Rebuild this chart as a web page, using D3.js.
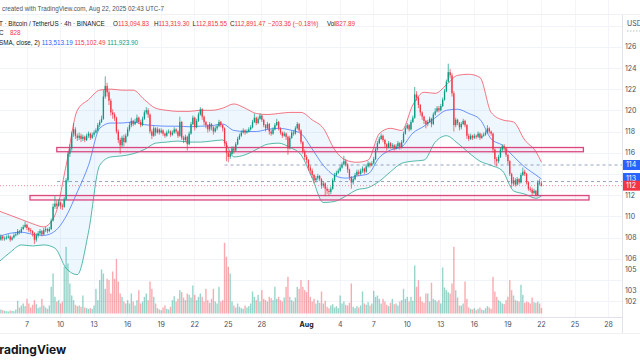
<!DOCTYPE html>
<html><head><meta charset="utf-8">
<script src="https://cdn.jsdelivr.net/npm/d3@7"></script>
<style>
html,body{margin:0;padding:0;background:#fff;}
svg{display:block;font-family:"Inter","Noto Sans",sans-serif;}
</style></head><body>
<svg id="c" width="640" height="360"></svg>
<script>
// ---- DATA (prices in thousands of USDT, 4h candles, chart time UTC-7) ----
const firstCandle = "2025-07-04T13:00";
const firstOpenK = 108.0;
const closeK = [107.8,108.1,107.9,
107.9,108.0,108.1,107.8,108.0,108.2,
108.3,108.6,108.5,108.8,109.0,109.2,
108.9,108.7,108.6,108.4,107.8,108.2,
108.4,108.6,108.3,108.7,108.8,108.6,
108.8,109.6,110.9,111.2,111.0,111.3,
111.0,110.9,111.6,113.4,115.9,116.4,
117.8,118.2,117.6,117.4,117.6,117.3,
117.5,117.2,117.6,117.8,117.4,117.7,
117.9,118.1,118.6,118.9,119.2,121.3,
122.3,121.7,120.9,119.8,119.6,119.3,
118.0,117.2,116.7,117.4,117.0,117.6,
118.2,118.6,119.0,118.7,118.9,119.3,
118.9,118.6,119.2,119.8,120.0,119.6,
118.0,117.6,118.3,117.9,118.2,117.9,
118.1,117.8,117.6,117.9,118.0,117.7,
117.9,118.2,118.0,117.6,118.9,117.4,
117.2,117.5,116.8,117.8,118.7,119.3,
118.4,119.0,119.6,120.1,119.4,118.9,
118.6,118.2,118.7,118.4,118.0,118.3,
118.5,118.9,118.6,118.3,116.9,116.0,
115.6,115.9,116.4,116.2,116.8,117.3,
117.6,117.9,118.1,117.9,118.0,118.2,
118.4,118.9,119.3,118.8,119.2,119.5,
119.1,118.6,118.3,118.7,118.0,117.8,
118.2,118.6,118.9,118.3,117.9,117.6,
117.8,117.5,116.4,117.4,117.9,117.8,
118.3,118.7,118.1,117.0,116.1,115.6,
115.3,114.6,114.3,113.9,113.4,113.6,
113.8,113.5,112.9,113.1,112.6,112.4,
112.3,112.6,113.4,113.9,114.1,114.3,
114.6,114.9,115.2,114.9,114.4,113.7,
113.2,113.5,113.9,114.2,114.0,114.3,
114.5,114.2,114.7,115.0,114.8,115.0,
115.4,116.3,116.9,117.3,117.6,117.2,
116.8,116.5,116.9,116.6,116.7,116.4,
116.6,116.9,116.5,117.0,117.8,118.3,
118.6,118.2,118.9,119.3,121.5,121.2,
120.5,119.8,119.4,119.0,118.7,118.9,
119.2,118.7,119.6,119.9,120.2,120.0,
120.4,121.0,121.8,122.7,123.6,123.3,
121.6,118.6,119.1,118.8,118.4,118.7,
119.0,118.6,117.6,117.3,117.6,117.4,
117.6,117.5,117.8,117.4,117.6,117.7,
117.9,118.3,118.0,117.8,116.3,115.4,
115.2,115.6,116.3,116.6,116.4,115.8,
115.2,114.0,113.1,113.4,113.0,113.5,
113.2,113.9,114.2,114.0,113.2,112.6,
112.5,112.2,112.4,112.0,113.2,113.09,
112.89];
const highK = [108.2,108.3,108.2,
108.1,108.2,108.3,108.2,108.1,108.4,
108.5,108.8,108.7,109.0,109.2,109.5,
109.3,109.0,108.9,108.7,108.5,108.4,
108.6,108.8,108.7,108.9,109.0,108.9,
109.0,109.8,111.2,111.9,111.5,111.6,
111.4,111.2,111.8,113.6,116.1,116.8,
118.0,118.8,118.4,117.8,117.9,117.8,
117.7,117.6,117.8,118.0,117.9,117.9,
118.1,118.3,118.8,119.1,119.5,121.9,
123.2,122.6,121.9,121.1,120.1,119.8,
119.4,118.2,117.4,117.6,117.7,117.8,
118.4,118.9,119.3,119.1,119.2,119.6,
119.4,119.1,119.4,120.0,120.3,120.2,
119.7,118.2,118.5,118.4,118.4,118.3,
118.3,118.2,117.9,118.1,118.2,118.1,
118.1,118.4,118.3,118.1,119.4,119.0,
117.6,117.7,117.6,118.0,118.9,119.5,
119.4,119.2,119.8,120.3,120.2,119.5,
119.0,118.7,118.9,118.8,118.5,118.5,
118.7,119.1,119.0,118.7,118.4,117.1,
116.2,116.1,116.6,116.6,117.0,117.5,
117.8,118.1,118.3,118.2,118.2,118.4,
118.6,119.1,119.7,119.4,119.4,119.7,
119.6,119.2,118.7,118.9,118.8,118.2,
118.4,118.8,119.2,119.0,118.4,118.0,
118.0,117.9,117.6,117.6,118.1,118.1,
118.5,118.9,118.8,118.2,117.1,116.3,
115.8,115.4,114.8,114.5,114.0,113.8,
114.0,113.9,113.6,113.3,113.2,112.8,
112.6,112.8,113.6,114.1,114.3,114.5,
114.8,115.1,115.7,115.4,115.0,114.5,
113.8,113.7,114.1,114.4,114.4,114.5,
114.7,114.6,114.9,115.2,115.1,115.2,
115.6,116.5,117.1,117.5,117.8,117.7,
117.3,116.9,117.1,117.0,116.9,116.8,
116.8,117.1,117.0,117.2,118.0,118.5,
118.8,118.7,119.1,119.5,122.2,121.8,
121.3,120.6,119.9,119.5,119.1,119.1,
119.4,119.3,119.8,120.2,120.4,120.4,
120.6,121.2,122.0,122.9,124.4,123.9,
123.5,121.8,119.3,119.2,118.9,118.9,
119.2,119.1,118.7,117.8,117.8,117.7,
117.8,117.7,118.0,117.9,117.8,117.9,
118.1,118.6,118.4,118.1,117.9,116.4,
115.6,115.8,116.5,116.8,116.8,116.5,
115.9,115.3,114.1,113.7,113.6,113.7,
113.6,114.1,114.6,114.4,114.1,113.3,
112.8,112.7,112.6,112.5,113.4,113.5,
113.32];
const lowK = [107.6,107.7,107.7,
107.7,107.8,107.9,107.6,107.7,107.9,
108.1,108.2,108.3,108.4,108.7,108.9,
108.7,108.5,108.4,108.1,107.4,107.6,
108.0,108.2,108.1,108.2,108.5,108.4,
108.5,108.7,109.5,110.7,110.7,110.9,
110.7,110.6,110.8,111.5,113.2,115.6,
116.2,117.5,117.3,117.1,117.2,117.0,
117.1,117.0,117.1,117.4,117.2,117.3,
117.5,117.8,118.0,118.4,118.8,119.1,
121.1,121.3,120.5,119.5,119.2,119.0,
117.8,116.9,115.9,116.5,116.6,116.9,
117.5,118.0,118.4,118.5,118.6,118.8,
118.7,118.4,118.5,119.1,119.6,119.3,
117.8,117.3,117.5,117.6,117.8,117.7,
117.8,117.6,117.4,117.5,117.8,117.5,
117.6,117.8,117.8,117.4,117.5,117.2,
116.9,117.0,116.2,116.7,117.7,118.6,
118.1,118.3,118.9,119.5,119.1,118.6,
118.3,117.9,118.0,118.1,117.7,117.9,
118.1,118.4,118.4,118.0,116.6,115.2,
115.1,115.4,115.8,115.9,116.1,116.7,
117.2,117.5,117.8,117.7,117.8,117.9,
118.1,118.3,118.8,118.6,118.7,119.1,
118.9,118.4,118.0,118.2,117.7,117.6,
117.7,118.1,118.5,118.1,117.7,117.4,
117.5,117.2,115.8,116.3,117.3,117.6,
117.7,118.2,117.9,116.8,115.9,115.3,
115.0,114.3,114.0,113.6,113.1,113.2,
113.4,113.3,112.6,112.7,111.9,112.1,
112.0,112.1,112.5,113.3,113.8,114.0,
114.2,114.5,114.8,114.7,114.1,113.4,
112.6,113.0,113.4,113.8,113.8,113.9,
114.1,114.0,114.1,114.6,114.6,114.7,
114.9,115.3,116.2,116.8,117.2,117.0,
116.5,116.2,116.4,116.4,116.4,116.2,
116.3,116.5,116.3,116.4,116.9,117.7,
118.2,118.0,118.1,118.8,119.2,120.9,
120.2,119.5,119.1,118.7,118.3,118.5,
118.8,118.4,118.6,119.5,119.8,119.8,
119.9,120.3,120.9,121.7,122.6,123.0,
121.3,118.0,118.4,118.6,118.1,118.2,
118.6,118.4,117.3,117.1,117.2,117.2,
117.3,117.3,117.4,117.2,117.3,117.5,
117.6,117.8,117.8,117.6,116.0,114.9,
114.7,115.0,115.5,116.1,116.2,115.6,
114.9,113.8,112.7,112.9,112.8,112.9,
113.0,113.1,113.8,113.8,113.0,112.4,
112.3,112.0,112.1,111.9,111.9,112.9,
112.82];
const volumeBTC = [450,600,500,400,350,300,450,400,350,600,
1900,900,1200,1500,1100,2200,1500,900,1300,2000,1400,800,1000,2200,1200,900,700,
1200,4000,6000,
2500,1800,2000,1500,1800,
7000,10000,7500,4500,
2700,2000,1300,1100,1200,1000,
2700,900,800,700,800,700,
1200,3700,2000,5000,6600,6000,
3700,5200,5000,3000,6300,5200,
8200,4800,3000,2500,1800,1500,
2000,1500,3000,1800,1200,2000,3500,1500,1800,2500,3000,2000,
4800,3700,2500,
1500,800,600,500,900,1200,700,600,1000,
2000,2600,1800,2200,3500,3200,2400,2000,3000,2800,2400,4200,2800,2000,2500,
3000,2500,1800,3700,2000,1600,2200,3700,1800,1500,4000,1800,2000,
10600,8500,7000,6000,
1800,1200,900,1500,1000,800,700,1200,900,1100,1500,
3300,2500,2000,2800,1800,3500,2200,
2000,1800,2500,2300,2000,4000,2200,2500,2000,1800,2400,
4000,5500,
2500,2000,1800,2400,4000,3700,
5000,4000,3500,3200,5000,
2500,1800,2200,1500,2000,1600,
3300,
1500,1900,1000,800,1200,1400,900,1100,800,2700,
1500,1800,1300,1200,1600,4500,
1000,800,1100,900,1200,3300,
1500,1300,1700,1200,1500,3400,
2500,2700,2200,
1500,2200,1800,1300,1100,1600,2200,1400,
1500,1200,1800,2000,3700,
2200,2500,1800,2500,1900,
7200,4000,5000,2500,1800,
1600,3000,3000,1800,4600,
2200,2000,1800,2000,1500,
6900,3900,3500,3200,3000,
4500,10000,3500,2400,
1200,1200,1500,4800,2200,
900,700,600,800,500,700,900,600,500,800,1100,900,700,
5500,3300,2500,2000,
1800,1500,1400,2000,
2500,5000,3500,2700,
2000,1900,
1800,4300,2800,
1600,1800,1700,1500,2400,
1700,1600,1800,1500,
827.89];
// Bollinger Bands (20, SMA, close, 2) read at every 6th candle
const bbIndex = [0,6,12,18,24,30,36,42,48,54,60,66,72,78,84,90,96,102,108,114,120,126,132,138,144,150,156,162,168,174,180,186,192,198,204,210,216,222,228,234,240,246,252,258,264,270,276,282,288,291];
const bbUpperK = [110.5,110.1,109.7,109.3,109.0,110.1,114.8,120.0,121.0,121.9,122.0,121.9,121.9,121.0,120.2,120.0,119.9,119.9,120.0,120.0,120.2,120.6,120.2,119.7,119.6,119.7,119.8,119.8,119.1,118.3,116.3,115.3,115.1,115.3,117.8,118.3,118.1,120.5,121.7,121.6,122.4,123.3,123.4,123.1,119.8,119.1,118.9,117.2,116.1,115.10];
const bbBasisK = [108.1,108.4,108.5,108.3,108.2,108.6,110.0,112.3,114.8,118.3,118.8,118.8,118.9,118.65,118.55,118.5,118.5,118.45,118.5,118.55,118.7,118.1,118.0,118.0,118.2,118.3,118.15,117.8,116.35,114.8,113.85,113.6,113.8,114.0,115.55,116.25,116.55,117.85,118.5,119.3,120.0,120.1,119.7,119.15,117.3,116.7,115.65,114.65,113.9,113.51];
const bbLowerK = [105.7,106.6,107.3,107.2,107.3,107.0,105.1,104.5,108.5,114.8,115.6,115.7,115.9,116.3,116.9,117.0,117.1,117.0,117.0,117.1,117.2,115.6,115.8,116.3,116.8,116.9,116.5,115.8,113.6,111.3,111.4,111.9,112.5,112.7,113.3,114.2,115.0,115.2,115.3,117.0,117.6,116.9,116.0,115.2,114.8,114.3,112.4,112.1,111.7,111.92];
const priceTickK = [126,124,122,120,118,116,112,110,108,106,105,103,102];
const gridK = [128,126,124,122,120,118,116,114,112,110,108,106,104,102,100];
const dateTicks = ["2025-07-07","2025-07-10","2025-07-13","2025-07-16","2025-07-19","2025-07-22","2025-07-25","2025-07-28","2025-08-01","2025-08-04","2025-08-07","2025-08-10","2025-08-13","2025-08-16","2025-08-19","2025-08-22","2025-08-25","2025-08-28"];
// drawings: rectangles [start, end, lowK, highK] and horizontal rays [start, priceK, label]
const zones = [["2025-07-09T17:00","2025-08-25T19:00",116.09,116.49],["2025-07-07T07:30","2025-08-26T07:00",111.54,111.96]];
const rays = [["2025-07-24T17:00",114.84,"114"],["2025-07-09T17:30",113.28,"113"]];
const lastPriceK = 112.89;

// ---- SCALES ----
const P = s => { const [d,t] = s.split("T"); const [Y,M,D]=d.split("-").map(Number); const [h,m]=(t||"00:00").split(":").map(Number); return new Date(Date.UTC(Y,M-1,D,h,m)); };
const t0 = P(firstCandle);
const tOf = i => new Date(t0.getTime() + i*4*3600e3);
const x = d3.scaleTime().domain([P("2025-07-07"),P("2025-08-22")]).range([26.5,541]);
const y = d3.scaleLinear().domain([100,128]).range([322.3,25.5]);
const yv = d3.scaleLinear().domain([0,11100]).range([313.5,239.5]);
const PANE_R = 622;
const UP="#089981", DN="#f23645";

const svg = d3.select("#c");
const candles = closeK.map((c,i)=>({i, t:tOf(i), o: i===0?firstOpenK:closeK[i-1], h:highK[i], l:lowK[i], c, v:volumeBTC[i]}));

// grid
const g0 = svg.append("g");
g0.selectAll("line.h").data(gridK).join("line")
  .attr("x1",0).attr("x2",PANE_R).attr("y1",d=>Math.round(y(d))+0.5).attr("y2",d=>Math.round(y(d))+0.5)
  .attr("stroke","#f0f3fa").attr("stroke-width",1);
g0.selectAll("line.v").data(dateTicks).join("line")
  .attr("x1",d=>Math.round(x(P(d)))+0.5).attr("x2",d=>Math.round(x(P(d)))+0.5).attr("y1",0).attr("y2",317)
  .attr("stroke","#f3f5fa").attr("stroke-width",1);

// volume
svg.append("g").selectAll("rect").data(candles).join("rect")
  .attr("x",d=>x(d.t)-0.7).attr("width",1.4)
  .attr("y",d=>yv(d.v)).attr("height",d=>yv(0)-yv(d.v))
  .attr("fill",d=>d.c>=d.o?"rgba(8,153,129,0.42)":"rgba(242,54,69,0.42)");

// bollinger
const bb = bbIndex.map((k,j)=>({t:tOf(k), u:bbUpperK[j], m:bbBasisK[j], l:bbLowerK[j]}));
const cv = d3.curveMonotoneX;
svg.append("path").datum(bb).attr("d",d3.area().x(d=>x(d.t)).y0(d=>y(d.l)).y1(d=>y(d.u)).curve(cv))
  .attr("fill","rgba(33,150,243,0.08)");
[["u","#f23645"],["m","#2962ff"],["l","#089981"]].forEach(([k,col])=>{
  svg.append("path").datum(bb).attr("d",d3.line().x(d=>x(d.t)).y(d=>y(d[k])).curve(cv))
    .attr("fill","none").attr("stroke",col).attr("stroke-width",0.8).attr("opacity",0.85);
});

// zones
svg.append("g").selectAll("rect").data(zones).join("rect")
  .attr("x",d=>x(P(d[0]))).attr("width",d=>x(P(d[1]))-x(P(d[0])))
  .attr("y",d=>y(d[3])).attr("height",d=>y(d[2])-y(d[3]))
  .attr("fill","rgba(233,30,99,0.06)").attr("stroke","#d9487f").attr("stroke-width",1.3);

// rays
svg.append("g").selectAll("line").data(rays).join("line")
  .attr("x1",d=>x(P(d[0]))).attr("x2",PANE_R).attr("y1",d=>y(d[1])).attr("y2",d=>y(d[1]))
  .attr("stroke","#7d8cb0").attr("stroke-width",0.8).attr("stroke-dasharray","3,3");
// last price line
svg.append("line").attr("x1",0).attr("x2",PANE_R).attr("y1",y(lastPriceK)).attr("y2",y(lastPriceK))
  .attr("stroke",DN).attr("stroke-width",0.7).attr("stroke-dasharray","1,2").attr("opacity",0.8);

// candles
const cg = svg.append("g");
cg.selectAll("line").data(candles).join("line")
  .attr("x1",d=>x(d.t)).attr("x2",d=>x(d.t)).attr("y1",d=>y(d.h)).attr("y2",d=>y(d.l))
  .attr("stroke",d=>d.c>=d.o?UP:DN).attr("stroke-width",0.7);
cg.selectAll("rect").data(candles).join("rect")
  .attr("x",d=>x(d.t)-0.65).attr("width",1.3)
  .attr("y",d=>y(Math.max(d.o,d.c))).attr("height",d=>Math.max(0.7,Math.abs(y(d.o)-y(d.c))))
  .attr("fill",d=>d.c>=d.o?UP:DN);

// axes frame
svg.append("rect").attr("x",PANE_R).attr("y",0).attr("width",640-PANE_R).attr("height",360).attr("fill","#fff");
svg.append("rect").attr("x",0).attr("y",317).attr("width",640).attr("height",43).attr("fill","#fff");
svg.append("line").attr("x1",PANE_R+0.5).attr("x2",PANE_R+0.5).attr("y1",14).attr("y2",333).attr("stroke","#e0e3eb");
svg.append("line").attr("x1",0).attr("x2",PANE_R).attr("y1",317.5).attr("y2",317.5).attr("stroke","#e0e3eb");
svg.append("line").attr("x1",0).attr("x2",640).attr("y1",14.5).attr("y2",14.5).attr("stroke","#f0f1f4");
svg.append("line").attr("x1",0).attr("x2",640).attr("y1",333.5).attr("y2",333.5).attr("stroke","#f0f1f4");

// price axis
const ya = d3.axisRight(y).tickValues(priceTickK).tickSize(0).tickPadding(0).tickFormat(d=>String(d));
const yag = svg.append("g").attr("transform",`translate(${PANE_R+3},0)`).call(ya);
yag.select(".domain").remove();
yag.selectAll("text").attr("font-size",7).attr("fill","#4a4e59").attr("font-family","Inter,sans-serif");
svg.append("text").attr("x",627).attr("y",26).attr("font-size",7).attr("fill","#4a4e59").text("USD");
svg.append("line").attr("x1",627).attr("x2",640).attr("y1",31).attr("y2",31).attr("stroke","#9598a1").attr("stroke-dasharray","1.5,1.5").attr("stroke-width",0.6);

// price labels
const labels = [[rays[0][1],rays[0][2],"#2962ff",0],[rays[1][1],rays[1][2],"#2962ff",-3.5],[lastPriceK,"112",DN,0]];
labels.forEach(([p,txt,col,dy])=>{
  svg.append("rect").attr("x",PANE_R+1).attr("y",y(p)+dy-5).attr("width",20).attr("height",10).attr("fill",col);
  svg.append("text").attr("x",PANE_R+4).attr("y",y(p)+dy+2.5).attr("font-size",7).attr("fill","#fff").text(txt);
});

// time axis
const xa = d3.axisBottom(x).tickValues(dateTicks.map(P)).tickSize(0).tickPadding(0)
  .tickFormat(d=>d.getUTCDate()===1?"Aug":String(d.getUTCDate()));
const xag = svg.append("g").attr("transform","translate(0,322)").call(xa);
xag.select(".domain").remove();
xag.selectAll("text").attr("font-size",7).attr("fill","#4a4e59").attr("font-family","Inter,sans-serif")
  .attr("font-weight",d=>d.getUTCDate()===1?700:400).attr("fill",d=>d.getUTCDate()===1?"#131722":"#4a4e59");

// header
const hdr = svg.append("g").attr("font-size",6.3).attr("fill","#131722").attr("font-family","'Liberation Sans',Arial,sans-serif");
hdr.append("text").attr("x",2).attr("y",11).attr("fill","#50535e").text("created with TradingView.com, Aug 22, 2025 02:43 UTC-7");
const l2 = hdr.append("text").attr("y",25.5);
[["T · Bitcoin / TetherUS · 4h · BINANCE","#131722",-1],["O","#131722",113],["113,094.83",DN,null],["H","#131722",154],["113,319.30",DN,null],["L","#131722",192.5],["112,815.55",DN,null],["C","#131722",230],["112,891.47",DN,null],["−203.36 (−0.18%)",DN,268],["Vol","#131722",327],["827.89",DN,null]]
  .forEach(([t,c,xx])=>{ const s=l2.append("tspan").attr("fill",c).text(t); if(xx!==null) s.attr("x",xx); });
const l3 = hdr.append("text").attr("x",-1).attr("y",35);
l3.append("tspan").text("C");
l3.append("tspan").attr("x",10).attr("fill",DN).text("828");
const l4 = hdr.append("text").attr("x",-1).attr("y",44.5);
[["SMA, close, 2) ","#131722"],["113,513.19 ","#2962ff"],["115,102.49 ",DN],["111,923.90","#089981"]]
  .forEach(([t,c])=>l4.append("tspan").attr("fill",c).text(t));

// footer
svg.append("text").attr("x",-8).attr("y",354).attr("font-size",12).attr("font-weight",700).attr("fill","#131722").text("TradingView");
</script>
</body></html>
